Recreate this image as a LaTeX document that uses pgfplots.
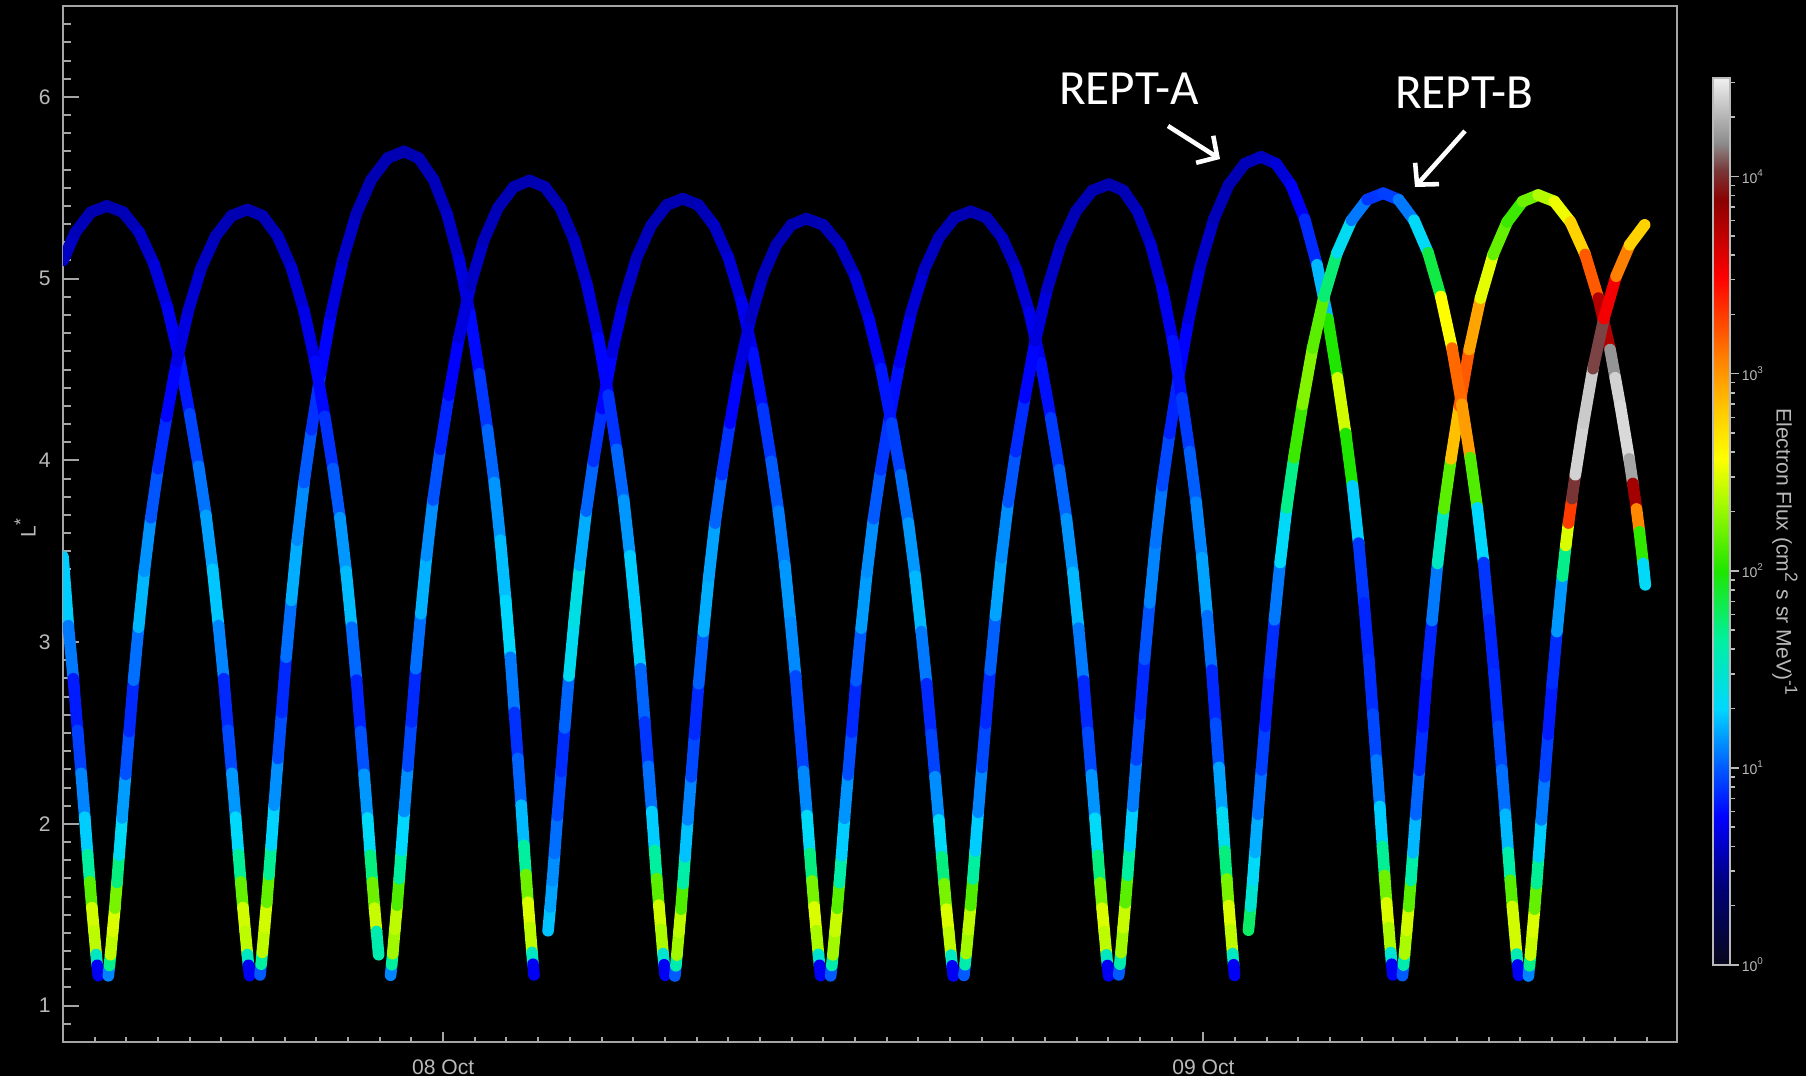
\documentclass[border=0pt]{standalone}
\usepackage{fontspec}
\setmainfont{Liberation Sans}
\newfontfamily\carlito{Carlito}
\usepackage{pgfplots}
\pgfplotsset{compat=1.18}
\usetikzlibrary{arrows.meta}
\definecolor{axgray}{RGB}{165,165,165}
\definecolor{labgray}{RGB}{185,185,185}
\pgfplotsset{
  colormap={flux}{
    rgb255(0cm)=(8,8,28);
    rgb255(0.40cm)=(0,0,120);
    rgb255(0.75cm)=(0,0,255);
    rgb255(1.00cm)=(0,90,255);
    rgb255(1.30cm)=(0,215,255);
    rgb255(1.65cm)=(0,240,160);
    rgb255(2.00cm)=(30,230,0);
    rgb255(2.35cm)=(170,250,0);
    rgb255(2.57cm)=(255,255,0);
    rgb255(2.82cm)=(255,200,0);
    rgb255(3.07cm)=(255,130,0);
    rgb255(3.49cm)=(255,0,0);
    rgb255(3.88cm)=(140,0,0);
    rgb255(4.03cm)=(120,55,55);
    rgb255(4.17cm)=(140,140,140);
    rgb255(4.50cm)=(240,240,240)
  },
  trace/.style={mesh, point meta=explicit, line width=3.3pt, line cap=round, line join=round}
}
\begin{document}
\begin{tikzpicture}
\fill[black] (0,0) rectangle (180.6mm,107.6mm);
\begin{axis}[
  at={(6.3mm,3.4mm)}, anchor=south west,
  scale only axis, width=161.4mm, height=103.6mm,
  xmin=-12, xmax=38.95, ymin=0.8, ymax=6.5,
  axis background/.style={fill=black},
  axis line style={axgray, line width=0.25mm},
  tick style={axgray, line width=0.2mm},
  tick align=inside, tick pos=left,
  major tick length=1.6mm, minor tick length=0.8mm,
  xtick style={/pgfplots/major tick length=1.0mm, /pgfplots/minor tick length=0.5mm},
  xtick={0,24}, xticklabels={08 Oct, 09 Oct},
  minor xtick={-11,-10,...,38},
  ytick={1,2,3,4,5,6},
  minor ytick={0.9,1.0,...,6.45},
  tick label style={font=\fontsize{6}{7}\selectfont, text=labgray},
  xticklabel style={yshift=-0.5mm},
  /pgf/number format/assume math mode=true,
  ylabel={L\textsuperscript{*}},
  ylabel style={at={(axis description cs:-0.0235,0.497)}, anchor=center, text=labgray, font=\fontsize{6}{7}\selectfont},
  colormap name=flux,
  point meta min=0, point meta max=4.5,
  colorbar,
  colorbar style={
    at={(parent axis.north east)}, anchor=north west,
    xshift=0.6mm, yshift=-7.2mm,
    width=1.7mm, height=88.7mm,
    ytick={0,1,2,3,4},
    yticklabels={10\textsuperscript{0},10\textsuperscript{1},10\textsuperscript{2},10\textsuperscript{3},10\textsuperscript{4}},
    minor ytick={0.301,0.477,0.602,0.699,0.778,0.845,0.903,0.954,1.301,1.477,1.602,1.699,1.778,1.845,1.903,1.954,2.301,2.477,2.602,2.699,2.778,2.845,2.903,2.954,3.301,3.477,3.602,3.699,3.778,3.845,3.903,3.954,4.301,4.477},
    tick align=outside, ytick pos=right,
    major tick length=0.9mm, minor tick length=0.45mm,
    tick style={labgray, line width=0.15mm},
    axis line style={labgray, line width=0.2mm},
    yticklabel style={font=\fontsize{4}{5}\selectfont, text=labgray, inner sep=0.6pt},
  },
]
% ---------- REPT-A ----------
\addplot[trace] table[meta index=2] {
-12.000 5.100 0.62
-11.610 5.254 0.58
-11.114 5.366 0.55
-10.618 5.400 0.55
-10.104 5.366 0.55
-9.590 5.254 0.58
-9.123 5.078 0.63
-8.702 4.841 0.68
-8.328 4.562 0.76
-8.001 4.256 0.88
-7.721 3.968 1.00
-7.487 3.697 1.12
-7.277 3.401 1.22
-7.090 3.091 1.30
-6.926 2.799 0.90
-6.786 2.515 0.82
-6.669 2.278 1.08
-6.552 2.037 1.22
-6.459 1.831 1.40
-6.389 1.681 1.95
-6.319 1.539 2.40
-6.249 1.410 2.50
-6.179 1.281 2.30
-6.144 1.222 0.75
-6.109 1.165 0.70
};
\addplot[trace] table[meta index=2] {
-5.780 1.169 1.00
-5.745 1.228 1.00
-5.710 1.293 2.30
-5.639 1.431 2.50
-5.568 1.569 2.40
-5.498 1.721 1.95
-5.427 1.882 1.40
-5.333 2.103 1.18
-5.215 2.360 1.08
-5.097 2.613 0.85
-4.956 2.917 0.88
-4.791 3.230 1.22
-4.603 3.561 1.18
-4.391 3.878 1.05
-4.156 4.168 0.95
-3.873 4.476 0.82
-3.543 4.803 0.70
-3.167 5.102 0.63
-2.743 5.355 0.58
-2.272 5.544 0.55
-1.754 5.663 0.55
-1.236 5.700 0.55
-0.768 5.663 0.55
-0.300 5.544 0.56
0.125 5.355 0.58
0.508 5.102 0.63
0.848 4.803 0.70
1.146 4.476 0.85
1.401 4.168 0.95
1.614 3.878 1.10
1.806 3.561 1.18
1.976 3.230 1.30
2.125 2.917 1.30
2.252 2.613 0.85
2.359 2.360 0.92
2.465 2.103 1.12
2.550 1.882 1.35
2.614 1.721 1.95
2.678 1.569 2.45
2.741 1.431 2.50
2.805 1.293 2.30
2.837 1.228 0.75
2.869 1.169 0.70
};
\addplot[trace] table[meta index=2] {
3.313 1.412 1.30
3.382 1.543 1.20
3.450 1.686 1.15
3.518 1.838 1.10
3.609 2.046 1.00
3.723 2.289 0.90
3.836 2.528 0.85
3.973 2.814 1.20
4.132 3.109 1.50
4.314 3.422 1.30
4.518 3.721 1.10
4.745 3.995 0.95
5.018 4.286 0.82
5.336 4.594 0.70
5.700 4.876 0.63
6.109 5.115 0.58
6.564 5.292 0.56
7.064 5.405 0.55
7.564 5.440 0.55
8.060 5.405 0.55
8.556 5.292 0.58
9.007 5.115 0.62
9.413 4.876 0.67
9.773 4.594 0.74
10.089 4.286 0.84
10.360 3.995 0.95
10.585 3.721 1.05
10.788 3.422 1.12
10.968 3.109 1.18
11.126 2.814 1.05
11.261 2.528 0.85
11.374 2.289 1.02
11.487 2.046 1.20
11.577 1.838 1.45
11.645 1.686 2.00
11.712 1.543 2.45
11.780 1.412 2.50
11.848 1.282 2.20
11.882 1.222 0.75
11.915 1.165 0.70
};
\addplot[trace] table[meta index=2] {
12.233 1.164 1.00
12.268 1.221 1.00
12.302 1.279 2.20
12.371 1.407 2.45
12.440 1.536 2.40
12.508 1.676 1.90
12.577 1.826 1.35
12.669 2.031 1.20
12.783 2.270 1.08
12.898 2.505 0.85
13.035 2.787 0.88
13.196 3.077 1.12
13.379 3.384 1.20
13.585 3.679 1.05
13.814 3.948 0.95
14.089 4.234 0.85
14.410 4.537 0.74
14.776 4.815 0.67
15.189 5.050 0.61
15.647 5.225 0.57
16.151 5.336 0.55
16.655 5.370 0.55
17.151 5.336 0.55
17.647 5.225 0.57
18.098 5.050 0.61
18.504 4.815 0.67
18.864 4.537 0.74
19.180 4.234 0.85
19.451 3.948 0.97
19.676 3.679 1.08
19.879 3.384 1.20
20.059 3.077 1.25
20.217 2.787 0.90
20.352 2.505 0.82
20.465 2.270 1.08
20.578 2.031 1.20
20.668 1.826 1.45
20.736 1.676 2.00
20.803 1.536 2.45
20.871 1.407 2.50
20.939 1.279 2.30
20.973 1.221 0.75
21.006 1.164 0.70
};
\addplot[trace] table[meta index=2] {
21.327 1.169 1.00
21.362 1.228 1.00
21.397 1.292 2.20
21.467 1.429 2.45
21.536 1.566 2.40
21.606 1.717 1.90
21.676 1.877 1.40
21.769 2.096 1.15
21.885 2.352 1.02
22.002 2.604 0.85
22.141 2.905 0.88
22.304 3.216 1.08
22.490 3.545 1.12
22.700 3.860 1.00
22.933 4.148 0.90
23.212 4.454 0.80
23.538 4.779 0.70
23.910 5.076 0.63
24.329 5.327 0.58
24.794 5.515 0.55
25.306 5.633 0.55
25.818 5.670 0.58
26.292 5.633 0.62
26.766 5.515 0.68
27.197 5.327 0.78
27.585 5.076 0.95
27.929 4.779 1.50
28.231 4.454 2.50
28.490 4.148 2.40
28.705 3.860 1.60
28.899 3.545 0.95
29.071 3.216 0.85
29.222 2.905 0.85
29.351 2.604 0.90
29.459 2.352 1.00
29.567 2.096 1.15
29.653 1.877 1.40
29.718 1.717 1.95
29.782 1.566 2.45
29.847 1.429 2.50
29.912 1.292 2.20
29.944 1.228 0.75
29.976 1.169 0.70
};
\addplot[trace] table[meta index=2] {
30.282 1.165 1.00
30.316 1.223 1.00
30.349 1.283 2.20
30.416 1.414 2.50
30.482 1.545 2.40
30.549 1.689 1.90
30.615 1.841 1.35
30.704 2.050 1.10
30.815 2.295 0.95
30.926 2.534 0.80
31.059 2.822 0.80
31.215 3.119 0.90
31.392 3.433 1.25
31.592 3.733 1.80
31.814 4.008 2.50
32.081 4.300 3.20
32.391 4.610 3.20
32.747 4.893 2.70
33.146 5.133 2.30
33.590 5.312 2.05
34.079 5.425 2.10
34.567 5.460 2.30
35.077 5.425 2.45
35.586 5.312 2.60
36.050 5.133 2.95
36.467 4.893 3.45
36.837 4.610 4.05
36.999 4.455 4.35
37.161 4.300 4.45
37.439 4.008 4.40
37.555 3.873 4.10
37.671 3.733 3.50
37.764 3.607 2.60
37.880 3.433 1.50
37.949 3.315 1.15
};
% ---------- REPT-B ----------
\addplot[trace] table[meta index=2] {
-12.000 3.470 1.25
-11.832 3.091 1.30
-11.674 2.799 0.85
-11.539 2.515 0.80
-11.426 2.278 1.05
-11.313 2.037 1.15
-11.223 1.831 1.40
-11.155 1.681 1.90
-11.088 1.539 2.40
-11.020 1.410 2.50
-10.952 1.281 2.30
-10.919 1.222 0.75
-10.885 1.165 0.70
};
\addplot[trace] table[meta index=2] {
-10.568 1.164 1.10
-10.534 1.221 1.10
-10.500 1.280 2.30
-10.432 1.408 2.50
-10.363 1.537 2.45
-10.295 1.678 2.00
-10.227 1.828 1.45
-10.136 2.033 1.22
-10.023 2.273 1.10
-9.909 2.508 0.85
-9.773 2.791 0.88
-9.613 3.082 1.22
-9.432 3.390 1.22
-9.227 3.685 1.05
-9.000 3.955 0.92
-8.727 4.242 0.82
-8.409 4.545 0.70
-8.045 4.824 0.65
-7.636 5.059 0.61
-7.182 5.234 0.57
-6.682 5.346 0.55
-6.182 5.380 0.55
-5.702 5.346 0.55
-5.222 5.234 0.57
-4.786 5.059 0.61
-4.393 4.824 0.66
-4.044 4.545 0.72
-3.738 4.242 0.82
-3.476 3.955 0.95
-3.258 3.685 1.05
-3.062 3.390 1.25
-2.887 3.082 1.22
-2.734 2.791 0.85
-2.604 2.508 0.85
-2.494 2.273 1.10
-2.385 2.033 1.20
-2.298 1.828 1.45
-2.233 1.678 2.00
-2.167 1.537 2.40
-2.102 1.408 2.45
-2.036 1.280 0.75
};
\addplot[trace] table[meta index=2] {
-1.659 1.167 1.10
-1.625 1.225 1.10
-1.591 1.286 2.20
-1.523 1.420 2.45
-1.454 1.553 2.35
-1.386 1.699 1.90
-1.318 1.855 1.40
-1.227 2.068 1.20
-1.114 2.317 1.05
-1.000 2.561 0.85
-0.864 2.854 0.88
-0.704 3.156 1.22
-0.523 3.475 1.20
-0.318 3.782 1.05
-0.091 4.061 0.90
0.182 4.359 0.80
0.500 4.674 0.70
0.864 4.963 0.63
1.273 5.207 0.58
1.727 5.389 0.56
2.227 5.504 0.55
2.727 5.540 0.55
3.215 5.504 0.55
3.703 5.389 0.56
4.147 5.207 0.58
4.546 4.963 0.63
4.901 4.674 0.70
5.212 4.359 0.82
5.478 4.061 0.95
5.700 3.782 1.10
5.899 3.475 1.20
6.077 3.156 1.35
6.232 2.854 1.20
6.365 2.561 0.85
6.476 2.317 0.95
6.587 2.068 1.15
6.676 1.855 1.40
6.742 1.699 1.90
6.809 1.553 2.40
6.876 1.420 2.50
6.942 1.286 2.20
6.976 1.225 0.75
7.009 1.167 0.70
};
\addplot[trace] table[meta index=2] {
7.315 1.163 1.00
7.347 1.219 1.00
7.379 1.278 2.20
7.444 1.405 2.45
7.508 1.531 2.35
7.573 1.671 1.90
7.637 1.819 1.35
7.723 2.022 1.15
7.831 2.259 1.05
7.938 2.492 0.85
8.067 2.771 0.88
8.218 3.058 1.15
8.390 3.363 1.25
8.583 3.655 1.10
8.798 3.921 0.95
9.056 4.205 0.82
9.357 4.505 0.70
9.701 4.780 0.63
10.088 5.013 0.58
10.518 5.186 0.56
10.991 5.296 0.55
11.464 5.330 0.55
11.994 5.296 0.55
12.523 5.186 0.57
13.004 5.013 0.62
13.436 4.780 0.68
13.821 4.505 0.76
14.157 4.205 0.86
14.446 3.921 1.00
14.686 3.655 1.10
14.903 3.363 1.20
15.095 3.058 1.25
15.263 2.771 0.90
15.408 2.492 0.82
15.528 2.259 1.05
15.648 2.022 1.20
15.744 1.819 1.45
15.816 1.671 2.00
15.888 1.531 2.45
15.960 1.405 2.50
16.033 1.278 2.30
16.069 1.219 0.75
16.105 1.163 0.70
};
\addplot[trace] table[meta index=2] {
16.439 1.166 1.00
16.475 1.225 1.00
16.510 1.286 2.20
16.581 1.418 2.45
16.653 1.551 2.35
16.724 1.697 1.90
16.795 1.851 1.40
16.890 2.064 1.15
17.008 2.311 1.05
17.127 2.554 0.85
17.269 2.846 0.88
17.436 3.146 1.15
17.625 3.465 1.20
17.839 3.770 1.05
18.076 4.048 0.92
18.361 4.344 0.82
18.693 4.658 0.70
19.073 4.945 0.63
19.500 5.189 0.58
19.974 5.370 0.56
20.496 5.485 0.55
21.018 5.520 0.55
21.470 5.485 0.55
21.922 5.370 0.57
22.333 5.189 0.61
22.703 4.945 0.67
23.031 4.658 0.74
23.319 4.344 0.85
23.566 4.048 0.97
23.771 3.770 1.05
23.956 3.465 1.15
24.120 3.146 1.20
24.264 2.846 0.90
24.387 2.554 0.82
24.490 2.311 1.10
24.593 2.064 1.25
24.675 1.851 1.45
24.737 1.697 2.00
24.798 1.551 2.45
24.860 1.418 2.50
24.922 1.286 2.30
24.953 1.225 0.75
24.983 1.166 0.70
};
\addplot[trace] table[meta index=2] {
25.422 1.415 1.95
25.491 1.546 1.60
25.559 1.690 1.35
25.627 1.843 1.30
25.718 2.053 1.10
25.832 2.297 1.00
25.945 2.538 0.85
26.082 2.826 0.80
26.241 3.123 0.95
26.423 3.438 1.20
26.627 3.739 1.45
26.854 4.015 1.95
27.127 4.308 2.20
27.445 4.618 2.30
27.809 4.902 2.00
28.218 5.142 1.50
28.673 5.321 1.20
29.173 5.435 0.95
29.673 5.470 0.85
30.161 5.435 1.00
30.649 5.321 1.15
31.093 5.142 1.50
31.492 4.902 2.20
31.847 4.618 2.95
32.157 4.308 3.35
32.423 4.015 2.60
32.645 3.739 1.65
32.845 3.438 0.95
33.022 3.123 0.85
33.177 2.826 0.85
33.311 2.538 0.90
33.421 2.297 1.00
33.532 2.053 1.10
33.621 1.843 1.35
33.688 1.690 1.90
33.754 1.546 2.40
33.821 1.415 2.50
33.887 1.284 2.40
33.921 1.224 0.75
33.954 1.166 0.70
};
\addplot[trace] table[meta index=2] {
34.259 1.163 1.10
34.292 1.219 1.10
34.324 1.278 2.30
34.388 1.405 2.55
34.452 1.531 2.40
34.517 1.671 1.95
34.581 1.819 1.40
34.667 2.022 1.15
34.774 2.259 1.00
34.881 2.492 0.85
35.010 2.771 0.80
35.160 3.058 0.95
35.332 3.363 1.35
35.439 3.532 2.05
35.525 3.655 2.90
35.632 3.790 3.70
35.740 3.921 4.35
35.997 4.205 4.45
36.297 4.505 4.30
36.641 4.780 3.80
37.027 5.013 3.25
37.456 5.186 2.90
37.928 5.296 2.65
};
\end{axis}
\node[text=labgray, rotate=-90, font=\fontsize{6}{7}\selectfont] at (178.5mm,52.3mm) {Electron Flux (cm\textsuperscript{2} s sr MeV)\textsuperscript{-1}};
\node[text=white, font=\carlito\fontsize{14}{16}\selectfont] at (112.9mm,98.7mm) {REPT-A};
\node[text=white, font=\carlito\fontsize{14}{16}\selectfont] at (146.4mm,98.3mm) {REPT-B};
\draw[white, line width=1.3pt, -{Straight Barb[length=1.5mm, width=3.2mm]}] (116.8mm,95.0mm) -- (122.0mm,91.7mm);
\draw[white, line width=1.3pt, -{Straight Barb[length=1.5mm, width=3.2mm]}] (146.5mm,94.5mm) -- (141.5mm,88.9mm);
\pgfresetboundingbox
\path[use as bounding box] (0,0) rectangle (180.6mm,107.6mm);
\end{tikzpicture}
\end{document}
